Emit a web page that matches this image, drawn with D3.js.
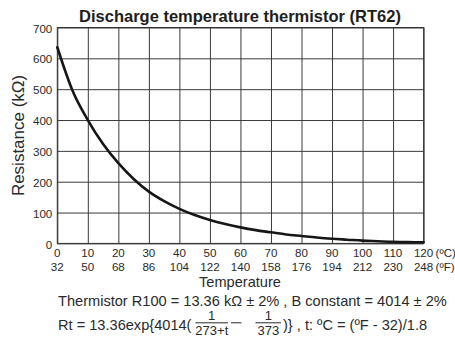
<!DOCTYPE html>
<html>
<head>
<meta charset="utf-8">
<script src="https://cdn.jsdelivr.net/npm/d3@7/dist/d3.min.js"></script>
<style>
  html, body { margin: 0; padding: 0; background: #fff; }
  svg { display: block; font-family: "Liberation Sans", Arial, sans-serif; }
</style>
</head>
<body>
<svg id="chart" width="455" height="339"></svg>
<script>
// Resistance curve of the RT62 discharge thermistor (kΩ vs °C)
const tempC = [0, 5, 10, 15, 20, 25, 30, 35, 40, 45, 50, 55, 60, 65, 70, 75, 80, 85, 90, 95, 100, 105, 110, 115, 120];
const resistance = [636, 495, 400, 322, 260, 209, 168, 137, 112, 92, 76, 63, 52, 43, 36, 29, 24, 19, 15, 12, 9, 7, 5, 4, 3.5];

const celsiusTicks = [0, 10, 20, 30, 40, 50, 60, 70, 80, 90, 100, 110, 120];
const fahrenheitTicks = [32, 50, 68, 86, 104, 122, 140, 158, 176, 194, 212, 230, 248];
const resistanceTicks = [0, 100, 200, 300, 400, 500, 600, 700];

const titleText = "Discharge temperature thermistor (RT62)";
const yTitle = "Resistance (kΩ)";
const xTitle = "Temperature";
const noteLine1 = "Thermistor R100 = 13.36 kΩ ± 2% , B constant = 4014 ± 2%";

const svg = d3.select("#chart");
const plotLeft = 57.3, plotRight = 423.6, plotTop = 27.5, plotBottom = 243.4;
const textColor = "#2a2a2a";

const x = d3.scaleLinear().domain([0, 120]).range([plotLeft, plotRight]);
const y = d3.scaleLinear().domain([0, 700]).range([plotBottom, plotTop]);

// Title
svg.append("text")
  .attr("x", 240).attr("y", 21.5)
  .attr("text-anchor", "middle")
  .attr("font-size", 16.5).attr("font-weight", "bold")
  .attr("fill", "#1e1e1e")
  .text(titleText);

// Vertical grid lines
const gx = svg.append("g")
  .attr("transform", `translate(0,${plotBottom})`)
  .call(d3.axisBottom(x).tickValues(celsiusTicks).tickSize(-(plotBottom - plotTop)).tickFormat(""));
gx.select(".domain").remove();
gx.selectAll(".tick line").attr("stroke", "#3a3a3a").attr("stroke-width", 1);

// Horizontal grid lines + resistance labels
const gy = svg.append("g")
  .attr("transform", `translate(${plotLeft},0)`)
  .call(d3.axisLeft(y).tickValues(resistanceTicks).tickSize(-(plotRight - plotLeft)).tickPadding(5));
gy.select(".domain").remove();
gy.selectAll(".tick line").attr("stroke", "#3a3a3a").attr("stroke-width", 1);
gy.selectAll(".tick text")
  .attr("x", -5).attr("dy", "0.4em")
  .attr("font-size", 11.6).attr("font-family", "Liberation Sans, Arial, sans-serif")
  .attr("fill", textColor);

// Frame
svg.append("rect")
  .attr("x", plotLeft).attr("y", plotTop)
  .attr("width", plotRight - plotLeft).attr("height", plotBottom - plotTop)
  .attr("fill", "none").attr("stroke", "#333").attr("stroke-width", 1);

// Celsius and Fahrenheit tick labels
const labels = svg.append("g")
  .attr("font-size", 11.6).attr("fill", textColor).attr("text-anchor", "middle");
labels.selectAll("text.c")
  .data(celsiusTicks).join("text").attr("class", "c")
  .attr("x", d => x(d)).attr("y", 257.3).text(d => d);
labels.selectAll("text.f")
  .data(fahrenheitTicks).join("text").attr("class", "f")
  .attr("x", (d, i) => x(celsiusTicks[i])).attr("y", 270.5).text(d => d);
labels.append("text").attr("text-anchor", "start")
  .attr("x", x(120) + 12).attr("y", 257.3).text("(ºC)");
labels.append("text").attr("text-anchor", "start")
  .attr("x", x(120) + 12).attr("y", 270.5).text("(ºF)");

// Axis titles
svg.append("text")
  .attr("transform", `translate(23.5,${(plotTop + plotBottom) / 2}) rotate(-90)`)
  .attr("text-anchor", "middle")
  .attr("font-size", 17).attr("fill", textColor)
  .text(yTitle);
svg.append("text")
  .attr("x", 240).attr("y", 287)
  .attr("text-anchor", "middle")
  .attr("font-size", 14.6).attr("fill", textColor)
  .text(xTitle);

// Resistance curve
const line = d3.line()
  .x((d, i) => x(tempC[i]))
  .y(d => y(d))
  .curve(d3.curveMonotoneX);
svg.append("path")
  .datum(resistance)
  .attr("d", line)
  .attr("fill", "none")
  .attr("stroke", "#161616")
  .attr("stroke-width", 2.6)
  .attr("stroke-linecap", "round");

// Notes below the chart
const notes = svg.append("g").attr("font-size", 14.6).attr("fill", textColor);
notes.append("text").attr("x", 58).attr("y", 306).text(noteLine1);

notes.append("text").attr("x", 58).attr("y", 330).text("Rt = 13.36exp{4014(");
// first fraction 1 / (273+t)
const frac = notes.append("g").attr("font-size", 13).attr("text-anchor", "middle");
frac.append("text").attr("x", 211.5).attr("y", 320).text("1");
frac.append("line").attr("x1", 195.5).attr("x2", 228).attr("y1", 322.8).attr("y2", 322.8)
  .attr("stroke", textColor).attr("stroke-width", 1);
frac.append("text").attr("x", 211.8).attr("y", 335).text("273+t");
// minus sign
notes.append("line").attr("x1", 231).attr("x2", 241.5).attr("y1", 322.8).attr("y2", 322.8)
  .attr("stroke", textColor).attr("stroke-width", 1);
// second fraction 1 / 373
frac.append("text").attr("x", 268.3).attr("y", 320).text("1");
frac.append("line").attr("x1", 255.5).attr("x2", 281).attr("y1", 322.8).attr("y2", 322.8)
  .attr("stroke", textColor).attr("stroke-width", 1);
frac.append("text").attr("x", 268.3).attr("y", 335).text("373");
notes.append("text").attr("x", 283).attr("y", 330).text(")} , t: ºC = (ºF - 32)/1.8");
</script>
</body>
</html>
